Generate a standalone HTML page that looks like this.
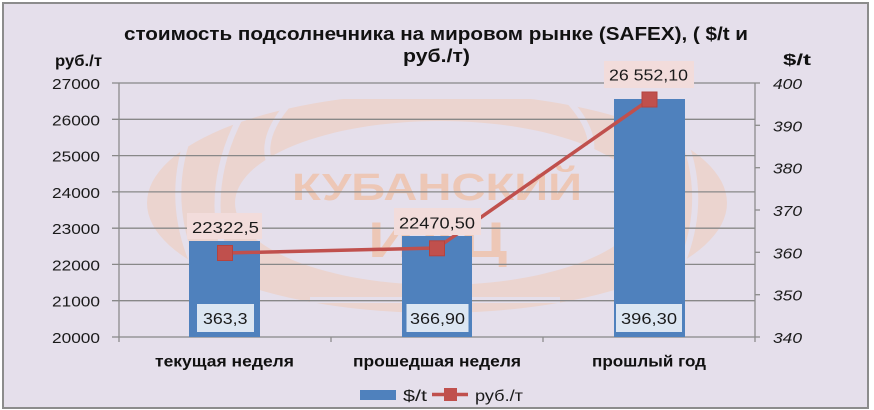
<!DOCTYPE html>
<html>
<head>
<meta charset="utf-8">
<style>
html,body{margin:0;padding:0;background:#ffffff;}
svg{display:block;}
text{font-family:"Liberation Sans","DejaVu Sans",sans-serif;}
</style>
</head>
<body>
<svg width="874" height="410" viewBox="0 0 874 410" xmlns="http://www.w3.org/2000/svg">
  <!-- chart background -->
  <rect x="3" y="3" width="865" height="405" fill="#E5DFEB" stroke="#8C8C8C" stroke-width="2"/>

  <!-- watermark -->
  <ellipse cx="437" cy="203" rx="290" ry="110" fill="#EBD4CF"/>
  <ellipse cx="440" cy="203" rx="205" ry="82" fill="#E5DFEB"/>
  <g fill="none" stroke="#E5DFEB" stroke-width="6">
    <path d="M 200 110 Q 150 205 215 305"/>
    <path d="M 250 100 Q 185 205 250 312"/>
    <path d="M 300 92 Q 240 150 290 190"/>
    <path d="M 670 110 Q 725 205 660 305"/>
    <path d="M 620 98 Q 690 205 615 312"/>
    <path d="M 560 92 Q 610 140 580 175"/>
    <path d="M 330 96 L 540 96"/>
    <path d="M 310 300 L 560 300"/>
  </g>
  <text x="292" y="200" font-size="38" font-weight="bold" fill="#EDC7B6" textLength="290" lengthAdjust="spacingAndGlyphs">КУБАНСКИЙ</text>
  <text x="368" y="257" font-size="50" font-weight="bold" fill="#EDC7B6" textLength="139" lengthAdjust="spacingAndGlyphs">ИАЦ</text>

  <!-- gridlines -->
  <g stroke="#888888" stroke-width="1.3">
    <line x1="112" y1="83" x2="755" y2="83"/>
    <line x1="112" y1="119.3" x2="755" y2="119.3"/>
    <line x1="112" y1="155.6" x2="755" y2="155.6"/>
    <line x1="112" y1="191.9" x2="755" y2="191.9"/>
    <line x1="112" y1="228.2" x2="755" y2="228.2"/>
    <line x1="112" y1="264.4" x2="755" y2="264.4"/>
    <line x1="112" y1="300.7" x2="755" y2="300.7"/>
    <line x1="112" y1="337" x2="755" y2="337"/>
  </g>
  <!-- axes -->
  <g stroke="#8C8C8C" stroke-width="1.3">
    <line x1="119" y1="83" x2="119" y2="342"/>
    <line x1="755" y1="83" x2="755" y2="342"/>
    <line x1="755" y1="83" x2="760" y2="83"/>
    <line x1="755" y1="125.3" x2="760" y2="125.3"/>
    <line x1="755" y1="167.7" x2="760" y2="167.7"/>
    <line x1="755" y1="210" x2="760" y2="210"/>
    <line x1="755" y1="252.3" x2="760" y2="252.3"/>
    <line x1="755" y1="294.7" x2="760" y2="294.7"/>
    <line x1="755" y1="337" x2="760" y2="337"/>
    <line x1="331" y1="337" x2="331" y2="342"/>
    <line x1="543" y1="337" x2="543" y2="342"/>
  </g>

  <!-- left axis labels -->
  <g font-size="15" fill="#1a1a1a" text-anchor="end">
    <text x="100" y="89" textLength="48" lengthAdjust="spacingAndGlyphs">27000</text>
    <text x="100" y="125.3" textLength="48" lengthAdjust="spacingAndGlyphs">26000</text>
    <text x="100" y="161.6" textLength="48" lengthAdjust="spacingAndGlyphs">25000</text>
    <text x="100" y="197.9" textLength="48" lengthAdjust="spacingAndGlyphs">24000</text>
    <text x="100" y="234.2" textLength="48" lengthAdjust="spacingAndGlyphs">23000</text>
    <text x="100" y="270.4" textLength="48" lengthAdjust="spacingAndGlyphs">22000</text>
    <text x="100" y="306.7" textLength="48" lengthAdjust="spacingAndGlyphs">21000</text>
    <text x="100" y="343" textLength="48" lengthAdjust="spacingAndGlyphs">20000</text>
  </g>
  <!-- right axis labels -->
  <g font-size="15" font-style="italic" fill="#1a1a1a">
    <text x="773" y="89" textLength="29" lengthAdjust="spacingAndGlyphs">400</text>
    <text x="773" y="131.3" textLength="29" lengthAdjust="spacingAndGlyphs">390</text>
    <text x="773" y="173.7" textLength="29" lengthAdjust="spacingAndGlyphs">380</text>
    <text x="773" y="216" textLength="29" lengthAdjust="spacingAndGlyphs">370</text>
    <text x="773" y="258.3" textLength="29" lengthAdjust="spacingAndGlyphs">360</text>
    <text x="773" y="300.7" textLength="29" lengthAdjust="spacingAndGlyphs">350</text>
    <text x="773" y="343" textLength="29" lengthAdjust="spacingAndGlyphs">340</text>
  </g>

  <!-- title -->
  <g font-weight="bold" fill="#111">
    <text x="124" y="40" font-size="18" textLength="624" lengthAdjust="spacingAndGlyphs">стоимость подсолнечника на мировом рынке (SAFEX), ( $/t и</text>
    <text x="403" y="62" font-size="18" textLength="67" lengthAdjust="spacingAndGlyphs">руб./т)</text>
    <text x="55" y="66" font-size="16" textLength="47" lengthAdjust="spacingAndGlyphs">руб./т</text>
    <text x="783" y="65" font-size="16" textLength="28" lengthAdjust="spacingAndGlyphs">$/t</text>
  </g>

  <!-- bars -->
  <g fill="#4F81BD">
    <rect x="189" y="241" width="71" height="96"/>
    <rect x="402" y="236" width="70" height="101"/>
    <rect x="614" y="99" width="71" height="238"/>
  </g>

  <!-- line -->
  <polyline points="225,253 437,248 649.5,99.5" fill="none" stroke="#C0504D" stroke-width="3.5" stroke-linejoin="round"/>
  <g fill="#C0504D" stroke="#B4433F" stroke-width="1">
    <rect x="217.5" y="245.5" width="15" height="15"/>
    <rect x="429.5" y="240.8" width="15" height="15"/>
    <rect x="642" y="92" width="15" height="15"/>
  </g>

  <!-- bar data labels -->
  <g fill="#DCE6F2">
    <rect x="197" y="304" width="57" height="28"/>
    <rect x="406.5" y="304" width="62" height="28"/>
    <rect x="616" y="304" width="66" height="28"/>
  </g>
  <g font-size="16" fill="#1a1a1a">
    <text x="203" y="324" textLength="44.5" lengthAdjust="spacingAndGlyphs">363,3</text>
    <text x="410" y="324" textLength="55" lengthAdjust="spacingAndGlyphs">366,90</text>
    <text x="621" y="324" textLength="56" lengthAdjust="spacingAndGlyphs">396,30</text>
  </g>

  <!-- line data labels -->
  <g fill="#F2DCDB">
    <rect x="187" y="213" width="75" height="26"/>
    <rect x="394" y="208" width="87" height="27"/>
    <rect x="604" y="61" width="90" height="27"/>
  </g>
  <g font-size="16" fill="#1a1a1a">
    <text x="192" y="233" textLength="67" lengthAdjust="spacingAndGlyphs">22322,5</text>
    <text x="399" y="228.5" textLength="76" lengthAdjust="spacingAndGlyphs">22470,50</text>
    <text x="609" y="80.5" textLength="79" lengthAdjust="spacingAndGlyphs">26 552,10</text>
  </g>

  <!-- category labels -->
  <g font-size="16" font-weight="bold" fill="#111">
    <text x="155" y="366.5" textLength="139" lengthAdjust="spacingAndGlyphs">текущая неделя</text>
    <text x="353" y="366.5" textLength="168" lengthAdjust="spacingAndGlyphs">прошедшая неделя</text>
    <text x="592" y="366.5" textLength="114" lengthAdjust="spacingAndGlyphs">прошлый год</text>
  </g>

  <!-- legend -->
  <rect x="360" y="390" width="36" height="10" fill="#4F81BD"/>
  <text x="403" y="401" font-size="16" fill="#1a1a1a" textLength="24" lengthAdjust="spacingAndGlyphs">$/t</text>
  <line x1="432" y1="394.5" x2="468" y2="394.5" stroke="#C0504D" stroke-width="3.5"/>
  <rect x="444" y="388" width="13" height="13" fill="#C0504D"/>
  <text x="475" y="401" font-size="16" fill="#1a1a1a" textLength="48" lengthAdjust="spacingAndGlyphs">руб./т</text>
</svg>
</body>
</html>
